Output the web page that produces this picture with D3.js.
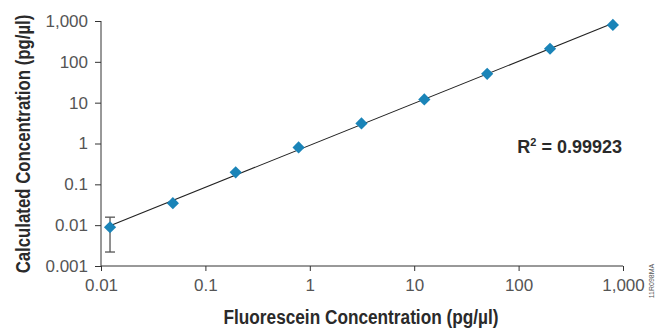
<!DOCTYPE html>
<html>
<head>
<meta charset="utf-8">
<script src="https://cdn.jsdelivr.net/npm/d3@7"></script>
<style>
  body { margin: 0; background: #fff; }
  svg { display: block; }
  .tick-label { font-family: "Liberation Sans", Arial, sans-serif; font-size: 17px; fill: #555; }
  .title { font-family: "Liberation Sans Narrow", "Liberation Sans", Arial, sans-serif; font-weight: bold; fill: #2a2a2a; }
</style>
</head>
<body>
<div id="chart"></div>
<script>
// data
const xValues = [0.0122, 0.0488, 0.195, 0.781, 3.125, 12.5, 50, 200, 800];
const yValues = [0.0089, 0.0345, 0.197, 0.80, 3.1, 12, 51, 209, 800];
const errLow = [0.0022, null, null, null, null, null, null, null, null];
const errHigh = [0.0157, null, null, null, null, null, null, null, null];
const tickValues = [0.001, 0.01, 0.1, 1, 10, 100, 1000];
const tickLabels = ["0.001", "0.01", "0.1", "1", "10", "100", "1,000"];
const xTickValues = [0.01, 0.1, 1, 10, 100, 1000];
const xTickLabels = ["0.01", "0.1", "1", "10", "100", "1,000"];
const r2Label = "0.99923";

const width = 657, height = 328;
const margin = { left: 101, right: 34, top: 21, bottom: 62 };

const svg = d3.select("#chart").append("svg")
    .attr("width", width)
    .attr("height", height);

const x = d3.scaleLog().domain([0.01, 1000]).range([margin.left, width - margin.right]);
const y = d3.scaleLog().domain([0.001, 1000]).range([height - margin.bottom, margin.top]);

// y axis
const yAxis = svg.append("g")
    .attr("transform", `translate(${margin.left},0)`)
    .call(d3.axisLeft(y).tickValues(tickValues).tickSize(6).tickPadding(7)
        .tickFormat((d, i) => tickLabels[i]));
yAxis.select(".domain").attr("d", `M0,${y(1000)}V${y(0.001)}`).attr("stroke", "#333");
yAxis.selectAll(".tick line").attr("stroke", "#333");
yAxis.selectAll(".tick text").attr("class", "tick-label").attr("fill", null);

// x axis
const xAxis = svg.append("g")
    .attr("transform", `translate(0,${y(0.001)})`)
    .call(d3.axisBottom(x).tickValues(xTickValues).tickSize(5).tickPadding(8)
        .tickFormat((d, i) => xTickLabels[i]));
xAxis.select(".domain").attr("d", `M${x(0.01)},0H${x(1000)}`).attr("stroke", "#333");
xAxis.selectAll(".tick line").attr("stroke", "#333");
xAxis.selectAll(".tick text").attr("class", "tick-label").attr("fill", null);

yAxis.attr("font-size", null).attr("font-family", null);
xAxis.attr("font-size", null).attr("font-family", null);

// least-squares fit in log-log space
const lx = xValues.map(Math.log10), ly = yValues.map(Math.log10);
const mx = d3.mean(lx), my = d3.mean(ly);
const slope = d3.sum(lx, (v, i) => (v - mx) * (ly[i] - my)) / d3.sum(lx, v => (v - mx) ** 2);
const icpt = my - slope * mx;
const fit = d3.extent(xValues).map(v => [v, Math.pow(10, icpt + slope * Math.log10(v))]);

svg.append("path")
    .datum(fit)
    .attr("fill", "none")
    .attr("stroke", "#222")
    .attr("stroke-width", 1.1)
    .attr("d", d3.line().x(d => x(d[0])).y(d => y(d[1])));

// error bars
const errs = xValues.map((v, i) => ({ x: v, lo: errLow[i], hi: errHigh[i] })).filter(d => d.lo != null);
const eb = svg.append("g").attr("stroke", "#555").attr("stroke-width", 1.3);
eb.selectAll(".v").data(errs).join("line")
    .attr("x1", d => x(d.x)).attr("x2", d => x(d.x))
    .attr("y1", d => y(d.lo)).attr("y2", d => y(d.hi));
eb.selectAll(".cl").data(errs).join("line")
    .attr("x1", d => x(d.x) - 5).attr("x2", d => x(d.x) + 5)
    .attr("y1", d => y(d.lo)).attr("y2", d => y(d.lo));
eb.selectAll(".ch").data(errs).join("line")
    .attr("x1", d => x(d.x) - 5).attr("x2", d => x(d.x) + 5)
    .attr("y1", d => y(d.hi)).attr("y2", d => y(d.hi));

// diamonds
svg.append("g")
    .selectAll("path")
    .data(xValues)
    .join("path")
    .attr("transform", (d, i) => `translate(${x(d)},${y(yValues[i])})`)
    .attr("d", d3.symbol().type(d3.symbolDiamond2).size(95))
    .attr("fill", "#1a84b8");

// titles
svg.append("text")
    .attr("class", "title")
    .attr("x", 361)
    .attr("y", 324)
    .attr("text-anchor", "middle")
    .attr("textLength", 275)
    .attr("lengthAdjust", "spacingAndGlyphs")
    .style("font-size", "20px")
    .text("Fluorescein Concentration (pg/µl)");

svg.append("text")
    .attr("class", "title")
    .attr("transform", "translate(30,144) rotate(-90) scale(1,1.15)")
    .attr("text-anchor", "middle")
    .style("font-size", "16.8px")
    .text("Calculated Concentration (pg/µl)");

const r2 = svg.append("text")
    .attr("class", "title")
    .attr("x", 622)
    .attr("y", 153)
    .attr("text-anchor", "end")
    .style("font-size", "18px");
r2.append("tspan").text("R");
r2.append("tspan").attr("dy", -7).style("font-size", "11px").text("2");
r2.append("tspan").attr("dy", 7).text(" = " + r2Label);

svg.append("text")
    .attr("transform", "translate(654,281) rotate(-90)")
    .attr("text-anchor", "middle")
    .style("font-family", "Liberation Sans Narrow, Liberation Sans, sans-serif")
    .style("font-size", "7px")
    .attr("fill", "#555")
    .text("11R098MA");
</script>
</body>
</html>
